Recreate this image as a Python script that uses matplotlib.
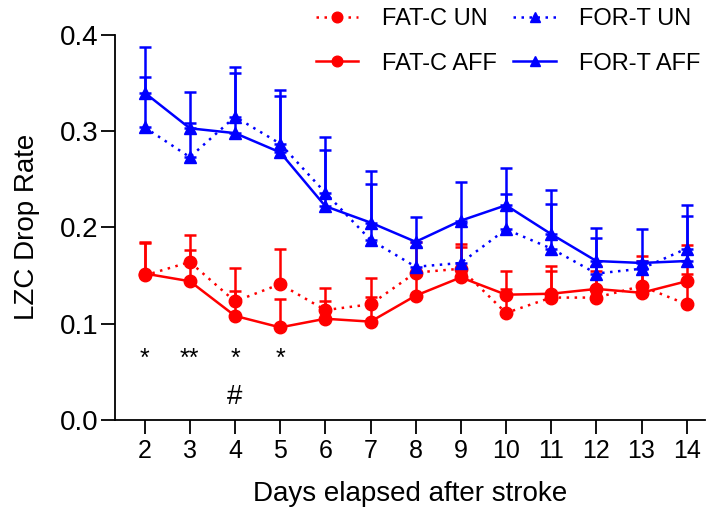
import numpy as np
import matplotlib
matplotlib.use("Agg")
import matplotlib.pyplot as plt

plt.rcParams['font.family'] = ['Liberation Sans', 'DejaVu Sans']

days = np.arange(2, 15)

# medias
fatc_un = [0.150, 0.164, 0.123, 0.141, 0.114, 0.120, 0.153, 0.157, 0.111, 0.127, 0.127, 0.139, 0.120]
fatc_aff = [0.152, 0.144, 0.108, 0.096, 0.105, 0.102, 0.129, 0.148, 0.130, 0.131, 0.136, 0.132, 0.144]
fort_un = [0.304, 0.273, 0.315, 0.287, 0.236, 0.187, 0.159, 0.163, 0.198, 0.178, 0.152, 0.157, 0.178]
fort_aff = [0.340, 0.303, 0.298, 0.278, 0.222, 0.205, 0.185, 0.207, 0.223, 0.193, 0.165, 0.163, 0.165]

# extremo superior de la barra de error
fatc_un_top = [0.184, 0.192, 0.158, 0.178, 0.137, 0.147, 0.185, 0.183, 0.136, 0.155, 0.155, 0.170, 0.151]
fatc_aff_top = [0.185, 0.176, 0.134, 0.126, 0.123, 0.128, 0.150, 0.180, 0.155, 0.160, 0.160, 0.165, 0.182]
fort_un_top = [0.356, 0.309, 0.367, 0.337, 0.280, 0.245, 0.180, 0.205, 0.235, 0.224, 0.189, 0.165, 0.223]
fort_aff_top = [0.388, 0.341, 0.360, 0.343, 0.294, 0.259, 0.211, 0.247, 0.262, 0.239, 0.199, 0.198, 0.212]

sig_days = [2, 3, 4, 5]
sig_marks = ["*", "**", "*", "*"]

RED = "#ff0000"
BLUE = "#0000ff"

fig = plt.figure(figsize=(7.09, 5.15), dpi=100)
ax = fig.add_axes([0.162, 0.185, 0.832, 0.747])

series = [
    (fatc_un, fatc_un_top, RED, "o", (0, (1, 2.2)), "FAT-C UN"),
    (fatc_aff, fatc_aff_top, RED, "o", "-", "FAT-C AFF"),
    (fort_un, fort_un_top, BLUE, "^", (0, (1, 2.2)), "FOR-T UN"),
    (fort_aff, fort_aff_top, BLUE, "^", "-", "FOR-T AFF"),
]

handles = []
for media, top, color, marker, ls, label in series:
    media = np.array(media)
    err = np.array(top) - media
    ax.errorbar(days, media, yerr=[np.zeros_like(err), err], fmt="none",
                ecolor=color, elinewidth=1.8, capsize=4.5, capthick=1.8)
    h, = ax.plot(days, media, color=color, linestyle=ls, linewidth=1.8,
                 marker=marker, markersize=9, label=label)
    handles.append(h)

# asteriscos y almohadilla
for d, s in zip(sig_days, sig_marks):
    ax.text(d, 0.063, s, ha="center", va="center", fontsize=18)
ax.text(4, 0.024, "#", ha="center", va="center", fontsize=20)

ax.set_xlim(1.34, 14.4)
ax.set_ylim(0, 0.4)
ax.set_xticks(days)
ax.set_yticks([0.0, 0.1, 0.2, 0.3, 0.4])
ax.set_yticklabels(["0.0", "0.1", "0.2", "0.3", "0.4"])
ax.tick_params(axis="x", labelsize=18, length=10, width=1.3, pad=4)
ax.tick_params(axis="y", labelsize=20, length=10, width=1.3, pad=2)
ax.spines["top"].set_visible(False)
ax.spines["right"].set_visible(False)
ax.spines["left"].set_linewidth(1.3)
ax.spines["bottom"].set_linewidth(1.3)
ax.set_ylabel("LZC Drop Rate", fontsize=20, labelpad=14)
ax.set_xlabel("Days elapsed after stroke", fontsize=20, labelpad=13)

fig.legend(handles=handles, loc="upper right", bbox_to_anchor=(1.0, 1.0),
           ncol=2, frameon=False, fontsize=17, labelspacing=0.95,
           handlelength=1.8, handletextpad=1.0, columnspacing=0.7,
           borderpad=0.25, borderaxespad=0.1, markerscale=0.85)

fig.savefig("out.png", dpi=100)
